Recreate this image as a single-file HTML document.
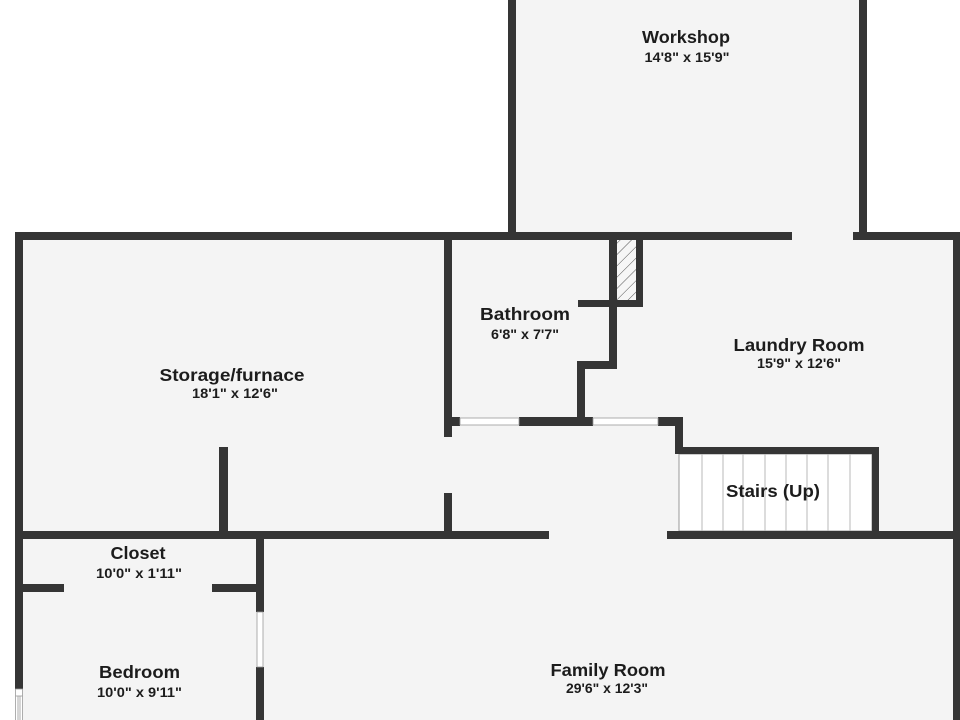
<!DOCTYPE html>
<html>
<head>
<meta charset="utf-8">
<style>
  html,body{margin:0;padding:0;background:#fff;}
  svg{display:block;}
  text{font-family:"Liberation Sans",sans-serif;font-weight:bold;fill:#1c1c1c;text-anchor:middle;}
  .n{font-size:17.5px;}
  .d{font-size:13.5px;}
</style>
</head>
<body>
<svg width="960" height="720" viewBox="0 0 960 720" xmlns="http://www.w3.org/2000/svg">
  <defs>
    <pattern id="hatch" patternUnits="userSpaceOnUse" width="8" height="8" patternTransform="rotate(45)">
      <rect width="8" height="8" fill="#f6f6f6"/>
      <line x1="0" y1="0" x2="0" y2="8" stroke="#555" stroke-width="1"/>
    </pattern>
  </defs>

  <!-- floor fills -->
  <rect x="0" y="0" width="960" height="720" fill="#ffffff"/>
  <rect x="512" y="0" width="351" height="240" fill="#f4f4f4"/>
  <rect x="19" y="236" width="938" height="484" fill="#f4f4f4"/>

  <!-- hatched box -->
  <rect x="617" y="240" width="19" height="60" fill="url(#hatch)"/>

  <!-- stairs -->
  <rect x="679" y="454" width="193" height="77" fill="#ffffff" stroke="#999" stroke-width="1"/>
  <g stroke="#b8b8b8" stroke-width="1">
    <line x1="702" y1="454" x2="702" y2="531"/>
    <line x1="723" y1="454" x2="723" y2="531"/>
    <line x1="743" y1="454" x2="743" y2="531"/>
    <line x1="765" y1="454" x2="765" y2="531"/>
    <line x1="786" y1="454" x2="786" y2="531"/>
    <line x1="807" y1="454" x2="807" y2="531"/>
    <line x1="828" y1="454" x2="828" y2="531"/>
    <line x1="850" y1="454" x2="850" y2="531"/>
  </g>

  <!-- walls -->
  <g fill="#353535">
    <!-- workshop -->
    <rect x="508" y="0" width="8" height="240"/>
    <rect x="859" y="0" width="8" height="240"/>
    <!-- top wall -->
    <rect x="15" y="232" width="777" height="8"/>
    <rect x="853" y="232" width="107" height="8"/>
    <!-- left outer -->
    <rect x="15" y="232" width="8" height="457"/>
    <!-- right outer -->
    <rect x="953" y="232" width="7" height="488"/>
    <!-- storage right wall -->
    <rect x="444" y="232" width="8" height="205"/>
    <rect x="444" y="493" width="8" height="46"/>
    <!-- storage divider -->
    <rect x="219" y="447" width="9" height="92"/>
    <!-- middle horizontal -->
    <rect x="15" y="531" width="534" height="8"/>
    <!-- bathroom bottom -->
    <rect x="444" y="417" width="16" height="9"/>
    <rect x="519" y="417" width="74" height="9"/>
    <rect x="658" y="417" width="25" height="9"/>
    <rect x="675" y="417" width="8" height="37"/>
    <!-- bathroom right -->
    <rect x="609" y="232" width="8" height="136"/>
    <rect x="577" y="361" width="40" height="8"/>
    <rect x="577" y="361" width="8" height="65"/>
    <rect x="578" y="300" width="65" height="7"/>
    <rect x="636" y="232" width="7" height="75"/>
    <!-- stairs walls -->
    <rect x="675" y="447" width="204" height="7"/>
    <rect x="872" y="447" width="7" height="92"/>
    <rect x="667" y="531" width="293" height="8"/>
    <!-- closet / bedroom -->
    <rect x="256" y="531" width="8" height="81"/>
    <rect x="256" y="667" width="8" height="53"/>
    <rect x="23" y="584" width="41" height="8"/>
    <rect x="212" y="584" width="52" height="8"/>
  </g>

  <!-- windows -->
  <g fill="#ffffff" stroke="#9a9a9a" stroke-width="0.8">
    <rect x="460" y="418" width="59" height="7"/>
    <rect x="593" y="418" width="65" height="7"/>
    <rect x="257" y="612" width="6" height="55"/>
    <rect x="15.5" y="689" width="7" height="32"/>
  </g>
  <g stroke="#9a9a9a" stroke-width="0.8">
    <line x1="15.5" y1="696" x2="22.5" y2="696"/>
    <line x1="18" y1="696" x2="18" y2="720"/>
    <line x1="20" y1="696" x2="20" y2="720"/>
  </g>

  <!-- labels -->
  <text class="n" x="686" y="43" textLength="88" lengthAdjust="spacingAndGlyphs">Workshop</text>
  <text class="d" x="687" y="62" textLength="85" lengthAdjust="spacingAndGlyphs">14'8" x 15'9"</text>

  <text class="n" x="232" y="381" textLength="145" lengthAdjust="spacingAndGlyphs">Storage/furnace</text>
  <text class="d" x="235" y="398" textLength="86" lengthAdjust="spacingAndGlyphs">18'1" x 12'6"</text>

  <text class="n" x="525" y="320" textLength="90" lengthAdjust="spacingAndGlyphs">Bathroom</text>
  <text class="d" x="525" y="339" textLength="68" lengthAdjust="spacingAndGlyphs">6'8" x 7'7"</text>

  <text class="n" x="799" y="351" textLength="131" lengthAdjust="spacingAndGlyphs">Laundry Room</text>
  <text class="d" x="799" y="368" textLength="84" lengthAdjust="spacingAndGlyphs">15'9" x 12'6"</text>

  <text class="n" x="773" y="497" textLength="94" lengthAdjust="spacingAndGlyphs">Stairs (Up)</text>

  <text class="n" x="138" y="559" textLength="55" lengthAdjust="spacingAndGlyphs">Closet</text>
  <text class="d" x="139" y="578" textLength="86" lengthAdjust="spacingAndGlyphs">10'0" x 1'11"</text>

  <text class="n" x="139.5" y="678" textLength="81" lengthAdjust="spacingAndGlyphs">Bedroom</text>
  <text class="d" x="139.5" y="697" textLength="85" lengthAdjust="spacingAndGlyphs">10'0" x 9'11"</text>

  <text class="n" x="608" y="676" textLength="115" lengthAdjust="spacingAndGlyphs">Family Room</text>
  <text class="d" x="607" y="693" textLength="82" lengthAdjust="spacingAndGlyphs">29'6" x 12'3"</text>
</svg>
</body>
</html>
